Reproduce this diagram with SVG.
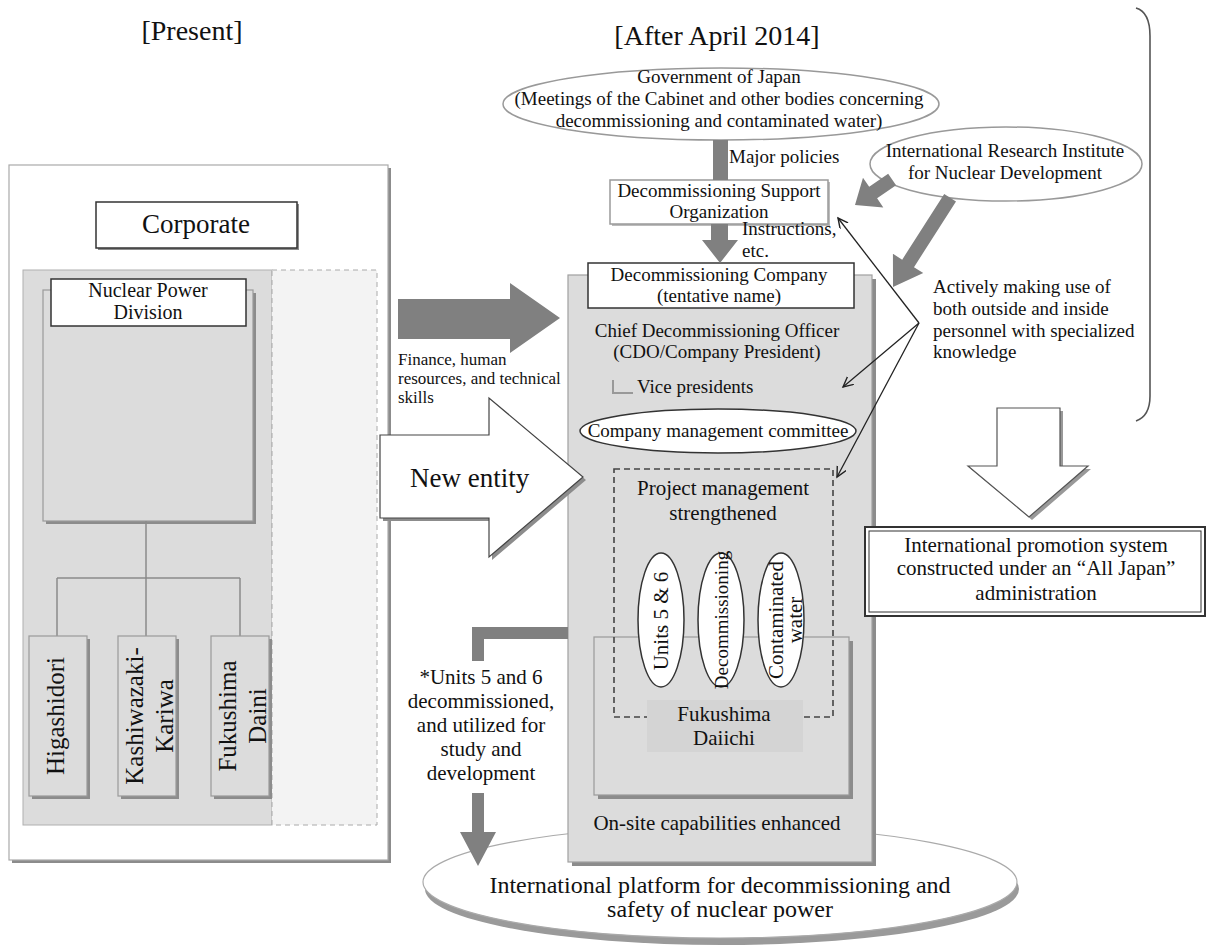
<svg xmlns="http://www.w3.org/2000/svg" width="1208" height="952" viewBox="0 0 1208 952">
<defs>
<marker id="open" markerWidth="12" markerHeight="12" refX="10" refY="5" orient="auto" markerUnits="userSpaceOnUse">
<path d="M0,0 L10,5 L0,10" fill="none" stroke="#222" stroke-width="1.4"/>
</marker>
</defs>
<style>
text{font-family:"Liberation Serif","Times New Roman",serif;fill:#111;}
.c{text-anchor:middle}
.s17{font-size:17px}
.s19{font-size:19px}
.s20{font-size:20px}
.s21{font-size:21px}
.s24{font-size:24px}
.s25{font-size:25px}
.s27{font-size:27px}
.s28{font-size:28px}
.sh{fill:#8c8c8c}
.wbox{fill:#fff;stroke:#333;stroke-width:1.5}
.gbox{fill:#dcdcdc;stroke:#9a9a9a;stroke-width:1.2}
.lite{fill:#fff;stroke:#9a9a9a;stroke-width:1.5}
.arr{fill:#808080}
.thin{stroke:#222;stroke-width:1.3;fill:none;marker-end:url(#open)}
.tree{stroke:#8a8a8a;stroke-width:1.5;fill:none}
</style>

<g id="titles">
<text class="c s28" x="192" y="40">[Present]</text>
<text class="c s28" x="717" y="45">[After April 2014]</text>
</g>

<g id="present-panel">
<rect class="sh" x="12" y="168" width="379" height="695"/>
<rect x="9" y="165" width="379" height="695" fill="#fff" stroke="#aaa" stroke-width="1.2"/>
<rect x="23" y="270" width="249" height="555" fill="#dcdcdc" stroke="#b0b0b0"/>
<rect x="272" y="270" width="105" height="555" fill="#f3f3f3" stroke="#aaa" stroke-dasharray="5,4"/>
</g>

<g id="corporate">
<rect class="sh" x="98" y="204" width="201" height="46"/>
<rect class="wbox" x="96" y="202" width="201" height="46"/>
<text class="c s27" x="196" y="233">Corporate</text>
</g>

<g id="nuclear-power-division">
<rect class="sh" x="46" y="293" width="210" height="231"/>
<rect class="gbox" x="43" y="290" width="210" height="231"/>
<rect class="wbox" x="51" y="279" width="195" height="47"/>
<text class="c s20" x="148" y="297">Nuclear Power</text>
<text class="c s20" x="148" y="319">Division</text>
</g>

<g id="site-tree">
<path class="tree" d="M146,521 V636 M57,578 H240 M57,578 V636 M240,578 V636"/>
</g>

<g id="higashidori">
<rect class="sh" x="32" y="639" width="58" height="160"/>
<rect class="gbox" x="29" y="636" width="58" height="160"/>
<text class="c s25" transform="translate(64,716) rotate(-90)">Higashidori</text>
</g>

<g id="kashiwazaki-kariwa">
<rect class="sh" x="121" y="639" width="58" height="160"/>
<rect class="gbox" x="118" y="636" width="58" height="160"/>
<text class="c s25" transform="translate(143,716) rotate(-90)"><tspan x="0" y="0">Kashiwazaki-</tspan><tspan x="0" y="30">Kariwa</tspan></text>
</g>

<g id="fukushima-daini">
<rect class="sh" x="214" y="639" width="58" height="160"/>
<rect class="gbox" x="211" y="636" width="58" height="160"/>
<text class="c s25" transform="translate(236,716) rotate(-90)"><tspan x="0" y="0">Fukushima</tspan><tspan x="0" y="30">Daini</tspan></text>
</g>

<g id="platform">
<ellipse cx="722" cy="889" rx="297" ry="56" fill="#9a9a9a"/>
<ellipse cx="720" cy="882" rx="297" ry="56" fill="#fff" stroke="#aaa" stroke-width="1.2"/>
<text class="c s24" x="720" y="893">International platform for decommissioning and</text>
<text class="c s24" x="720" y="917">safety of nuclear power</text>
</g>

<g id="decommissioning-company">
<rect class="sh" x="572" y="279" width="304" height="587"/>
<rect x="568" y="275" width="304" height="587" fill="#dcdcdc" stroke="#a0a0a0" stroke-width="1.2"/>
<rect class="wbox" x="588" y="263" width="266" height="45"/>
<text class="c s19" x="719" y="281">Decommissioning Company</text>
<text class="c s19" x="719" y="302">(tentative name)</text>
<text class="c s19" x="717" y="337">Chief Decommissioning Officer</text>
<text class="c s19" x="717" y="358">(CDO/Company President)</text>
<path d="M613,380 V393 H633" fill="none" stroke="#999" stroke-width="2"/>
<text class="s19" x="637" y="393">Vice presidents</text>
<text class="c s21" x="717" y="830">On-site capabilities enhanced</text>
</g>

<g id="management-committee">
<ellipse cx="718" cy="431" rx="138" ry="22" fill="#fff" stroke="#333" stroke-width="1.5"/>
<text class="c s19" x="718" y="437">Company management committee</text>
</g>

<g id="fukushima-daiichi">
<rect class="sh" x="598" y="641" width="255" height="158"/>
<rect class="gbox" x="594" y="637" width="255" height="158"/>
</g>

<g id="project-management">
<rect x="614" y="469" width="219" height="248" fill="none" stroke="#444" stroke-width="1.6" stroke-dasharray="6,4"/>
<text class="c s21" x="723" y="495">Project management</text>
<text class="c s21" x="723" y="520">strengthened</text>
<rect x="647" y="700" width="156" height="52" fill="#d4d4d4"/>
<text class="c s21" x="724" y="721">Fukushima</text>
<text class="c s21" x="724" y="745">Daiichi</text>
</g>

<g id="units-5-6">
<ellipse cx="661" cy="620" rx="23" ry="67" fill="#fff" stroke="#333" stroke-width="1.5"/>
<text class="c s21" transform="translate(668,621) rotate(-90)">Units 5 &amp; 6</text>
</g>
<g id="decommissioning">
<ellipse cx="721" cy="620" rx="23" ry="67" fill="#fff" stroke="#333" stroke-width="1.5"/>
<text class="c s19" transform="translate(728,620) rotate(-90)">Decommissioning</text>
</g>
<g id="contaminated-water">
<ellipse cx="781" cy="620" rx="23" ry="67" fill="#fff" stroke="#333" stroke-width="1.5"/>
<text class="c s21" transform="translate(783,620) rotate(-90)"><tspan x="0" y="0">Contaminated</tspan><tspan x="0" y="19">water</tspan></text>
</g>

<g id="government">
<ellipse cx="721" cy="104" rx="218" ry="36" fill="#fff" stroke="#999" stroke-width="1.5"/>
<text class="c s19" x="719" y="83">Government of Japan</text>
<text class="c s19" x="719" y="105">(Meetings of the Cabinet and other bodies concerning</text>
<text class="c s19" x="719" y="127">decommissioning and contaminated water)</text>
</g>

<g id="support-organization">
<rect x="612" y="182" width="218" height="44" fill="#bbb"/>
<rect class="lite" x="610" y="180" width="218" height="44"/>
<text class="c s19" x="719" y="197">Decommissioning Support</text>
<text class="c s19" x="719" y="218">Organization</text>
</g>

<g id="irid">
<ellipse cx="1006" cy="164" rx="136" ry="37" fill="#fff" stroke="#999" stroke-width="1.5"/>
<text class="c s19" x="1005" y="157">International Research Institute</text>
<text class="c s19" x="1005" y="179">for Nuclear Development</text>
</g>

<g id="personnel-note">
<text class="s19" x="933" y="293">Actively making use of</text>
<text class="s19" x="933" y="315">both outside and inside</text>
<text class="s19" x="933" y="337">personnel with specialized</text>
<text class="s19" x="933" y="358">knowledge</text>
<path d="M1136,8 Q1150,12 1150,36 L1150,396 Q1150,416 1136,421" fill="none" stroke="#555" stroke-width="1.6"/>
</g>

<g id="promotion-system">
<polygon points="1000,411 1063,411 1063,469 1091,469 1032,520 971,469 1000,469" fill="#999"/>
<polygon points="997,408 1060,408 1060,466 1088,466 1029,517 968,466 997,466" fill="#fff" stroke="#555" stroke-width="1.2"/>
<rect x="865" y="527" width="340" height="89" fill="#fff" stroke="#333" stroke-width="2"/>
<rect x="869" y="531" width="332" height="81" fill="none" stroke="#333" stroke-width="1"/>
<text class="c s21" x="1036" y="552">International promotion system</text>
<text class="c s21" x="1036" y="575">constructed under an “All Japan”</text>
<text class="c s21" x="1036" y="600">administration</text>
</g>

<g id="units-note">
<text class="c s21" x="481" y="684">*Units 5 and 6</text>
<text class="c s21" x="481" y="708">decommissioned,</text>
<text class="c s21" x="481" y="732">and utilized for</text>
<text class="c s21" x="481" y="756">study and</text>
<text class="c s21" x="481" y="780">development</text>
</g>

<g id="connectors">
<rect class="arr" x="713" y="140" width="15" height="40"/>
<text class="s19" x="729" y="163">Major policies</text>
<polygon class="arr" points="711,224 728,224 728,240 738,240 720,263 702,240 711,240"/>
<text class="s19" x="742" y="235">Instructions,</text>
<text class="s19" x="742" y="257">etc.</text>
<polygon class="arr" transform="translate(855,205) rotate(145.6)" points="-45,-7 -22,-7 -22,-18 0,0 -22,18 -22,7 -45,7"/>
<polygon class="arr" transform="translate(893,287) rotate(122.6)" points="-106,-7 -28,-7 -28,-18 0,0 -28,18 -28,7 -106,7"/>
<line class="thin" x1="919" y1="323" x2="838" y2="218"/>
<line class="thin" x1="919" y1="323" x2="843" y2="387"/>
<line class="thin" x1="919" y1="323" x2="837" y2="477"/>
<polygon class="arr" points="398,299 510,299 510,283 560,318 510,353 510,339 398,339"/>
<text class="s17" x="398" y="365">Finance, human</text>
<text class="s17" x="398" y="384">resources, and technical</text>
<text class="s17" x="398" y="403">skills</text>
<polygon points="383,438 492,438 492,401 586,480 492,560 492,521 383,521" fill="#8c8c8c"/>
<polygon points="380,435 489,435 489,398 583,477 489,557 489,518 380,518" fill="#fff" stroke="#444" stroke-width="1.2"/>
<text class="s27" x="410" y="487">New entity</text>
<path class="arr" d="M568,627 H472 V661 H484 V639 H568 Z"/>
<path class="arr" d="M472,793 H484 V832 H496 L478,866 L460,832 H472 Z"/>
</g>
</svg>
